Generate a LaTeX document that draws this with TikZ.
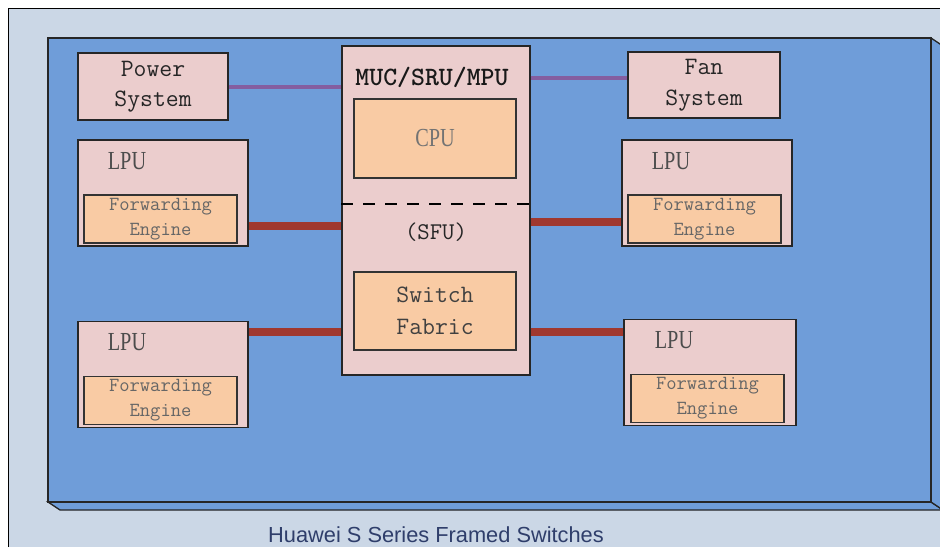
\documentclass[tikz,border=0pt]{standalone}
\usepackage{fontspec}
\setmainfont{Liberation Serif}
\newfontfamily\boxserif[FakeStretch=0.78]{Liberation Serif}
\newfontfamily\capsans{Liberation Sans}
\newcommand{\boxmono}{\ttfamily}
\usetikzlibrary{positioning}

\definecolor{framebg}{HTML}{CBD7E6}
\definecolor{chassis}{HTML}{6F9DD9}
\definecolor{boardpink}{HTML}{EBCDCD}
\definecolor{chiporange}{HTML}{F9CBA4}
\definecolor{busred}{HTML}{A0382F}
\definecolor{ctrlpurple}{HTML}{845EA0}
\definecolor{captext}{HTML}{2F3E6B}

\tikzset{
    board/.style={draw=black!85, line width=1.3pt, fill=boardpink, inner sep=0pt, align=center},
    chip/.style={draw=black!80, line width=1.3pt, fill=chiporange, inner sep=0pt, align=center},
    bus/.style={draw=busred, line width=8pt},
    ctrl/.style={draw=ctrlpurple, line width=4pt},
}

\begin{document}
\begin{tikzpicture}[x=1pt, y=-1pt]
    \useasboundingbox (0,0) rectangle (940,547);
    \fill[white] (0,0) rectangle (940,547);
    \fill[framebg] (8.5,8.5) rectangle (940,547);
    \draw[line width=1.5pt] (8.5,547) -- (8.5,8.5) -- (940,8.5);

    \filldraw[fill=chassis, draw=black!85, line width=1.3pt]
        (48,502) -- (931,502) -- (943,510) -- (60,510) -- cycle;
    \filldraw[fill=chassis, draw=black!85, line width=1.3pt]
        (931,38) -- (943,46) -- (943,510) -- (931,502) -- cycle;
    \filldraw[fill=chassis, draw=black!85, line width=1.5pt] (48,38) rectangle (931,502);

    \node[board, minimum width=188pt, minimum height=329pt] (muc) at (436,210.5) {};
    \draw[dashed, dash pattern=on 12pt off 10pt, line width=1.3pt] (muc.west |- 0,204) -- (muc.east |- 0,204);
    \node[font=\boxmono\bfseries\fontsize{26.5}{28}\selectfont, text=black!90] (muclabel) at (432,77) {MUC/SRU/MPU};
    \node[chip, minimum width=162pt, minimum height=79pt, font=\boxserif\fontsize{26}{28}\selectfont, text=black!55] (cpu) at (435,138.5) {CPU};
    \node[font=\boxmono\fontsize{24}{28}\selectfont, text=black!85] (sfu) at (436,232) {(SFU)};
    \node[chip, minimum width=162pt, minimum height=78pt, font=\boxmono\fontsize{25}{32}\selectfont, text=black!75] (fabric) at (435,311) {Switch\\Fabric};

    \node[board, minimum width=150pt, minimum height=67pt, font=\boxmono\fontsize{25}{30}\selectfont, text=black!85] (power) at (153,86.5) {Power\\System};
    \node[board, minimum width=152pt, minimum height=66pt, font=\boxmono\fontsize{25}{31}\selectfont, text=black!85] (fan) at (704,85) {Fan\\System};

    \foreach \name/\cx/\cy/\w in {lpuA/163/193/170, lpuB/707/193/170, lpuC/163/374.5/170, lpuD/710/372.5/172} {
        \node[board, minimum width=\w pt, minimum height=106pt] (\name) at (\cx,\cy) {};
        \node[font=\boxserif\fontsize{26}{28}\selectfont, text=black!70] (\name label) at ({\cx-36},{\cy-32}) {LPU};
        \node[chip, minimum width=153pt, minimum height=48pt, font=\boxmono\fontsize{20}{25}\selectfont, text=black!60] (\name fwd) at ({\cx-2.5},{\cy+26}) {Forwarding\\Engine};
    }

    \draw[ctrl] (power.east |- 0,87) -- (muc.west |- 0,87);
    \draw[ctrl] (muc.east |- 0,78) -- (fan.west |- 0,78);
    \draw[bus] (lpuA.east |- 0,226) -- (muc.west |- 0,226);
    \draw[bus] (muc.east |- 0,222) -- (lpuB.west |- 0,222);
    \draw[bus] (lpuC.east |- 0,332) -- (muc.west |- 0,332);
    \draw[bus] (muc.east |- 0,332) -- (lpuD.west |- 0,332);

    \node[font=\capsans\fontsize{21.8}{24}\selectfont, text=captext] (caption) at (436,535) {Huawei S Series Framed Switches};
\end{tikzpicture}
\end{document}
